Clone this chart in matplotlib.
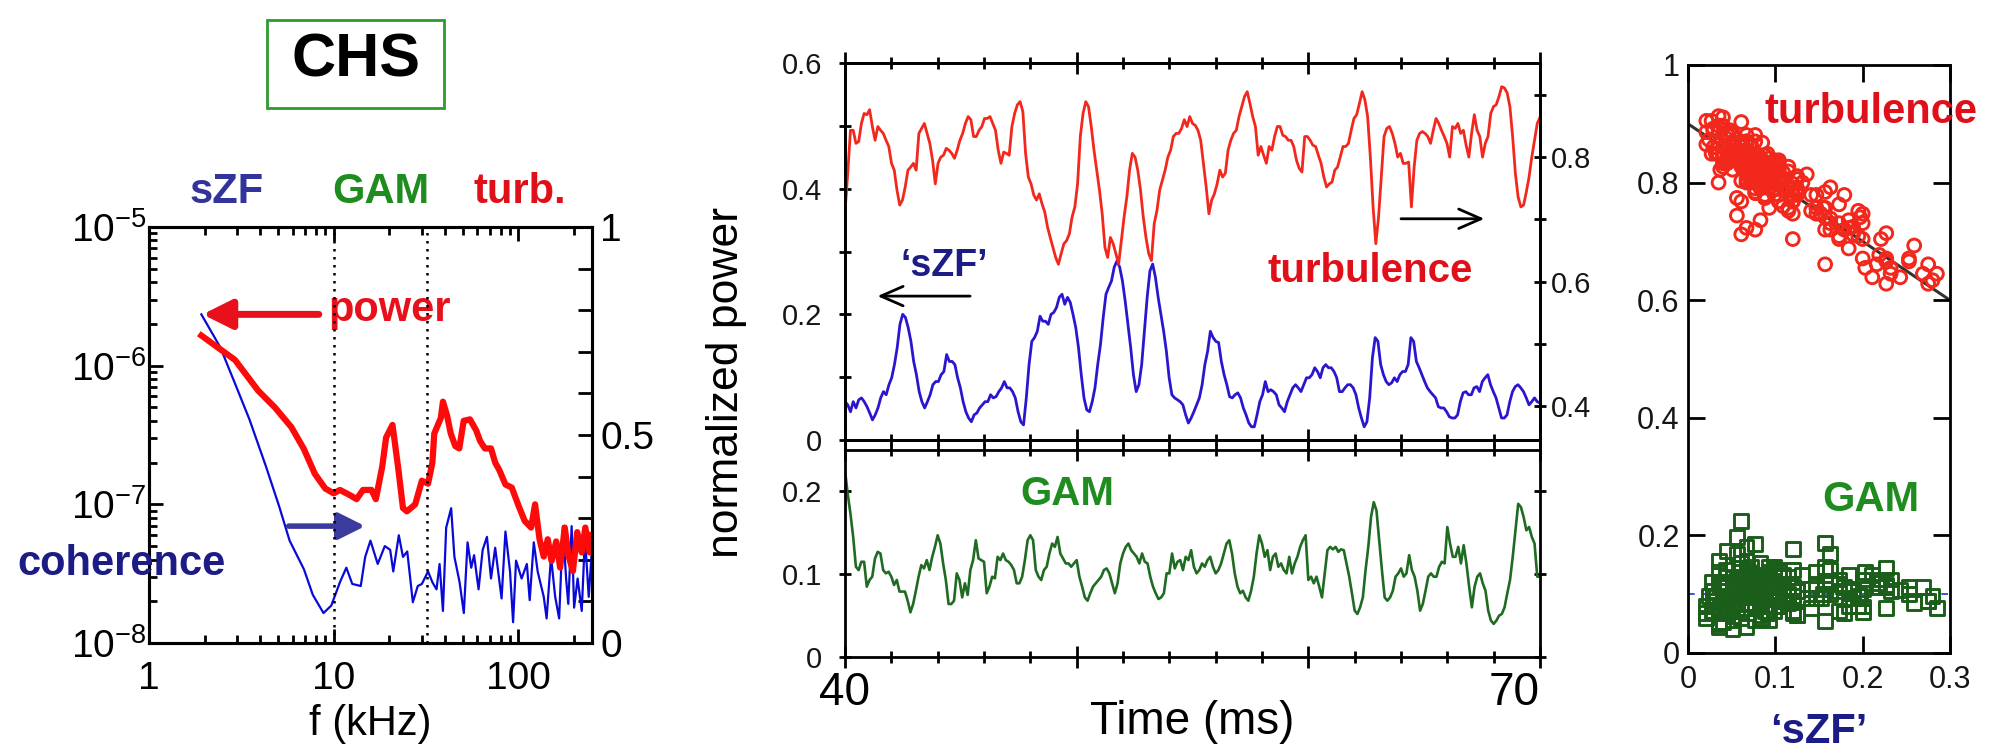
import numpy as np
import matplotlib
matplotlib.use("Agg")
import matplotlib.pyplot as plt
from matplotlib.patches import Rectangle
from matplotlib.ticker import (FixedLocator, FuncFormatter, LogLocator,
                               MultipleLocator, NullFormatter)

plt.rcParams["font.family"] = ["Liberation Sans", "DejaVu Sans"]
plt.rcParams["mathtext.fontset"] = "custom"
plt.rcParams["mathtext.rm"] = "Liberation Sans"
plt.rcParams["mathtext.it"] = "Liberation Sans:italic"
plt.rcParams["mathtext.bf"] = "Liberation Sans:bold"
plt.rcParams["axes.unicode_minus"] = False

# spectrum: power (log) and coherence vs frequency in kHz
spec_f = [1.92, 2.92, 3.9, 4.8, 5.9, 6.9, 7.9, 9.0, 10.0, 10.8, 12.3, 13.3,
          14.4, 16.0, 16.9, 18.3, 19.2, 20.8, 22.4, 23.7, 24.9, 27.6, 30.0,
          32.4, 34.2, 35.0, 38.0, 39.0, 41.0, 43.0, 45.5, 47.8, 50.5, 54.6,
          59.0, 62.0, 65.8, 71.0, 74.8, 78.7, 85.0, 92.0, 100.0, 108.0,
          117.0, 123.0, 130.0, 137.0, 144.0, 151.0, 160.0, 168.0, 178.0,
          187.0, 197.0, 208.0, 220.0, 230.0, 243.0, 250.0]
spec_power = [1.65e-6, 1.10e-6, 6.6e-7, 5.0e-7, 3.6e-7, 2.5e-7, 1.66e-7,
              1.3e-7, 1.2e-7, 1.27e-7, 1.16e-7, 1.09e-7, 1.27e-7, 1.27e-7,
              1.09e-7, 1.87e-7, 3.03e-7, 3.74e-7, 1.77e-7, 9.4e-8, 8.9e-8,
              1.0e-7, 1.48e-7, 1.41e-7, 2.0e-7, 3.24e-7, 4.2e-7, 5.5e-7,
              4.4e-7, 3.24e-7, 2.63e-7, 2.53e-7, 4.0e-7, 4.1e-7, 3.42e-7,
              2.86e-7, 2.53e-7, 2.53e-7, 2.0e-7, 1.77e-7, 1.39e-7, 1.32e-7,
              9.8e-8, 7.6e-8, 6.8e-8, 1.0e-7, 5.6e-8, 4.2e-8, 5.6e-8, 3.9e-8,
              5.4e-8, 3.5e-8, 6.8e-8, 4.2e-8, 3.3e-8, 6.3e-8, 4.5e-8, 6.8e-8,
              4.5e-8, 6.0e-8]
coh_f = [1.92, 2.43, 2.92, 3.5, 4.3, 5.06, 5.77, 6.9, 7.7, 8.8, 9.7, 10.8,
         11.7, 12.6, 14.0, 14.8, 15.8, 17.3, 18.9, 20.2, 21.0, 22.5, 23.7,
         25.0, 26.8, 28.5, 30.0, 32.4, 34.2, 36.0, 37.4, 39.0, 40.6, 43.2,
         45.0, 48.0, 50.6, 53.0, 55.5, 57.5, 60.8, 64.0, 67.5, 71.0, 74.8,
         81.0, 85.0, 90.0, 93.5, 97.0, 104.0, 111.0, 115.0, 121.0, 127.0,
         137.0, 142.0, 150.0, 158.0, 166.0, 174.0, 181.0, 186.0, 194.0,
         200.0, 209.0, 220.0, 229.0, 240.0, 249.0]
coh_val = [0.79, 0.711, 0.624, 0.537, 0.424, 0.329, 0.246, 0.177, 0.116,
           0.072, 0.09, 0.146, 0.181, 0.142, 0.137, 0.207, 0.246, 0.19,
           0.233, 0.224, 0.172, 0.259, 0.207, 0.22, 0.098, 0.137, 0.142,
           0.172, 0.146, 0.129, 0.19, 0.077, 0.277, 0.324, 0.207, 0.146,
           0.072, 0.242, 0.181, 0.211, 0.129, 0.224, 0.255, 0.155, 0.229,
           0.107, 0.268, 0.172, 0.05, 0.198, 0.155, 0.19, 0.103, 0.242,
           0.172, 0.111, 0.059, 0.207, 0.111, 0.059, 0.281, 0.155, 0.094,
           0.281, 0.085, 0.155, 0.077, 0.255, 0.111, 0.216]
band_edges = [10, 32]

# time traces, evenly sampled between 40 and 70 ms
t_start, t_end = 40, 70
szf_power = [
    0.061, 0.056, 0.045, 0.061, 0.051, 0.064, 0.067, 0.061, 0.053, 0.043,
    0.032, 0.040, 0.051, 0.067, 0.077, 0.072, 0.088, 0.099, 0.120, 0.147,
    0.184, 0.200, 0.195, 0.179, 0.157, 0.125, 0.104, 0.077, 0.061, 0.051,
    0.061, 0.072, 0.088, 0.093, 0.093, 0.104, 0.109, 0.136, 0.125, 0.125,
    0.120, 0.099, 0.083, 0.061, 0.045, 0.035, 0.029, 0.040, 0.043, 0.051,
    0.056, 0.061, 0.061, 0.072, 0.067, 0.069, 0.077, 0.083, 0.093, 0.083,
    0.083, 0.077, 0.067, 0.045, 0.029, 0.024, 0.067, 0.120, 0.157, 0.163,
    0.173, 0.197, 0.189, 0.189, 0.184, 0.200, 0.203, 0.211, 0.227, 0.232,
    0.216, 0.227, 0.219, 0.200, 0.179, 0.147, 0.104, 0.067, 0.048, 0.045,
    0.061, 0.083, 0.120, 0.152, 0.195, 0.232, 0.243, 0.253, 0.275, 0.285,
    0.275, 0.253, 0.221, 0.184, 0.147, 0.104, 0.077, 0.088, 0.120, 0.173,
    0.227, 0.269, 0.280, 0.259, 0.227, 0.200, 0.173, 0.141, 0.099, 0.072,
    0.067, 0.064, 0.061, 0.056, 0.040, 0.027, 0.035, 0.045, 0.056, 0.067,
    0.088, 0.120, 0.141, 0.173, 0.163, 0.157, 0.155, 0.125, 0.104, 0.088,
    0.069, 0.067, 0.072, 0.075, 0.067, 0.051, 0.040, 0.027, 0.021, 0.021,
    0.040, 0.061, 0.072, 0.093, 0.077, 0.080, 0.077, 0.072, 0.056, 0.051,
    0.045, 0.061, 0.072, 0.083, 0.088, 0.083, 0.077, 0.088, 0.099, 0.099,
    0.104, 0.115, 0.109, 0.099, 0.115, 0.120, 0.115, 0.115, 0.109, 0.099,
    0.077, 0.077, 0.083, 0.088, 0.088, 0.083, 0.072, 0.051, 0.035, 0.021,
    0.029, 0.067, 0.131, 0.163, 0.157, 0.120, 0.104, 0.093, 0.088, 0.091,
    0.099, 0.093, 0.104, 0.109, 0.109, 0.120, 0.163, 0.157, 0.125, 0.115,
    0.104, 0.093, 0.083, 0.077, 0.072, 0.067, 0.053, 0.051, 0.051, 0.045,
    0.037, 0.035, 0.035, 0.040, 0.061, 0.075, 0.077, 0.072, 0.072, 0.083,
    0.085, 0.077, 0.093, 0.099, 0.104, 0.088, 0.077, 0.067, 0.051, 0.035,
    0.035, 0.040, 0.061, 0.077, 0.085, 0.088, 0.083, 0.077, 0.067, 0.056,
    0.061, 0.067, 0.061, 0.059]
turb_power = [
    0.712, 0.774, 0.843, 0.843, 0.822, 0.825, 0.854, 0.870, 0.868, 0.876,
    0.849, 0.827, 0.849, 0.843, 0.838, 0.827, 0.817, 0.790, 0.779, 0.747,
    0.723, 0.731, 0.752, 0.779, 0.784, 0.790, 0.779, 0.838, 0.846, 0.854,
    0.838, 0.822, 0.795, 0.757, 0.790, 0.800, 0.803, 0.814, 0.811, 0.806,
    0.798, 0.811, 0.827, 0.838, 0.854, 0.865, 0.860, 0.833, 0.833, 0.843,
    0.849, 0.862, 0.862, 0.865, 0.854, 0.843, 0.811, 0.790, 0.808, 0.806,
    0.803, 0.849, 0.870, 0.884, 0.889, 0.873, 0.806, 0.768, 0.757, 0.739,
    0.731, 0.741, 0.725, 0.712, 0.688, 0.671, 0.655, 0.639, 0.628, 0.645,
    0.661, 0.666, 0.677, 0.704, 0.720, 0.757, 0.833, 0.870, 0.889, 0.881,
    0.849, 0.811, 0.779, 0.747, 0.709, 0.655, 0.639, 0.671, 0.661, 0.645,
    0.628, 0.666, 0.704, 0.736, 0.779, 0.806, 0.800, 0.779, 0.747, 0.704,
    0.671, 0.645, 0.634, 0.693, 0.714, 0.747, 0.763, 0.779, 0.800, 0.811,
    0.833, 0.838, 0.838, 0.846, 0.860, 0.849, 0.865, 0.854, 0.851, 0.843,
    0.827, 0.790, 0.752, 0.709, 0.731, 0.741, 0.757, 0.779, 0.768, 0.774,
    0.811, 0.827, 0.838, 0.843, 0.865, 0.881, 0.897, 0.905, 0.886, 0.865,
    0.849, 0.803, 0.817, 0.803, 0.790, 0.817, 0.811, 0.833, 0.849, 0.849,
    0.835, 0.833, 0.827, 0.827, 0.817, 0.795, 0.782, 0.776, 0.833, 0.833,
    0.827, 0.819, 0.817, 0.803, 0.790, 0.768, 0.752, 0.757, 0.760, 0.779,
    0.784, 0.800, 0.817, 0.817, 0.822, 0.843, 0.862, 0.868, 0.886, 0.905,
    0.892, 0.865, 0.800, 0.720, 0.661, 0.704, 0.768, 0.833, 0.846, 0.849,
    0.838, 0.822, 0.800, 0.806, 0.790, 0.790, 0.792, 0.720, 0.784, 0.827,
    0.838, 0.841, 0.838, 0.833, 0.822, 0.843, 0.862, 0.854, 0.843, 0.833,
    0.822, 0.800, 0.849, 0.846, 0.854, 0.838, 0.843, 0.819, 0.800, 0.838,
    0.868, 0.843, 0.833, 0.800, 0.822, 0.833, 0.870, 0.881, 0.884, 0.897,
    0.913, 0.911, 0.903, 0.881, 0.833, 0.774, 0.736, 0.720, 0.723, 0.744,
    0.768, 0.800, 0.827, 0.854, 0.864]
gam_power = [
    0.225, 0.197, 0.173, 0.145, 0.109, 0.105, 0.115, 0.115, 0.085, 0.093,
    0.097, 0.119, 0.127, 0.125, 0.105, 0.101, 0.103, 0.097, 0.087, 0.093,
    0.079, 0.079, 0.079, 0.068, 0.054, 0.064, 0.080, 0.097, 0.111, 0.107,
    0.117, 0.105, 0.121, 0.133, 0.147, 0.137, 0.113, 0.093, 0.064, 0.064,
    0.068, 0.101, 0.093, 0.072, 0.089, 0.075, 0.105, 0.117, 0.141, 0.119,
    0.117, 0.115, 0.077, 0.085, 0.097, 0.095, 0.121, 0.117, 0.125, 0.117,
    0.115, 0.111, 0.105, 0.089, 0.089, 0.097, 0.117, 0.141, 0.147, 0.141,
    0.105, 0.097, 0.093, 0.105, 0.109, 0.125, 0.137, 0.133, 0.145, 0.125,
    0.119, 0.113, 0.113, 0.109, 0.113, 0.117, 0.097, 0.085, 0.072, 0.068,
    0.077, 0.085, 0.089, 0.093, 0.097, 0.105, 0.107, 0.101, 0.089, 0.077,
    0.089, 0.113, 0.125, 0.133, 0.137, 0.129, 0.125, 0.121, 0.113, 0.125,
    0.115, 0.113, 0.097, 0.085, 0.077, 0.070, 0.072, 0.077, 0.101, 0.101,
    0.125, 0.107, 0.115, 0.117, 0.105, 0.121, 0.117, 0.129, 0.109, 0.101,
    0.105, 0.113, 0.109, 0.117, 0.121, 0.109, 0.101, 0.105, 0.113, 0.125,
    0.137, 0.141, 0.125, 0.101, 0.085, 0.077, 0.080, 0.072, 0.068, 0.080,
    0.097, 0.125, 0.147, 0.137, 0.121, 0.129, 0.105, 0.121, 0.125, 0.109,
    0.113, 0.105, 0.101, 0.121, 0.101, 0.113, 0.121, 0.133, 0.141, 0.147,
    0.093, 0.097, 0.089, 0.097, 0.085, 0.072, 0.101, 0.129, 0.133, 0.130,
    0.133, 0.127, 0.130, 0.129, 0.113, 0.097, 0.077, 0.056, 0.052, 0.060,
    0.072, 0.105, 0.133, 0.169, 0.187, 0.177, 0.141, 0.105, 0.072, 0.068,
    0.072, 0.080, 0.097, 0.101, 0.107, 0.097, 0.101, 0.123, 0.105, 0.097,
    0.080, 0.056, 0.064, 0.080, 0.097, 0.101, 0.097, 0.097, 0.109, 0.115,
    0.113, 0.157, 0.137, 0.121, 0.121, 0.133, 0.113, 0.135, 0.113, 0.085,
    0.060, 0.085, 0.097, 0.101, 0.089, 0.080, 0.056, 0.044, 0.040, 0.044,
    0.050, 0.052, 0.060, 0.077, 0.093, 0.121, 0.153, 0.185, 0.181, 0.169,
    0.153, 0.157, 0.145, 0.137, 0.097, 0.097]

# linear fit of turbulence vs sZF and mean GAM level
fit_x = [0.0, 0.3]
fit_y = [0.9, 0.6]
gam_level = 0.1

RED = "#f2281c"
BLUE = "#2b16d0"
GREEN = "#1f6b22"
NAVY = "#1c1c86"

W, H = 1999, 749
fig = plt.figure(figsize=(W / 100, H / 100), dpi=100)


def rect(x0, y0, x1, y1):
    return [x0 / W, 1 - y1 / H, (x1 - x0) / W, (y1 - y0) / H]


def at(x, y):
    return x / W, 1 - y / H


def fmt_g(v, pos):
    return f"{v:g}"


# ---------------- left: spectrum ----------------
ax = fig.add_axes(rect(149, 227, 592, 643))
axc = ax.twinx()
ax.set_zorder(axc.get_zorder() + 1)
ax.patch.set_visible(False)

axc.plot(coh_f, coh_val, color="#0a0ad8", lw=1.6)
ax.plot(spec_f, spec_power, color="#ff0a0a", lw=4.5, solid_joinstyle="round")
for fb in band_edges:
    ax.axvline(fb, color="k", ls=(0, (1, 2.2)), lw=1.8)

ax.set_xscale("log")
ax.set_yscale("log")
ax.set_xlim(1, 250)
ax.set_ylim(1e-8, 1e-5)
axc.set_ylim(0, 1)

ax.xaxis.set_major_locator(FixedLocator([1, 10, 100]))
ax.xaxis.set_minor_locator(LogLocator(base=10, subs=np.arange(2, 10)))
ax.xaxis.set_major_formatter(FuncFormatter(fmt_g))
ax.xaxis.set_minor_formatter(NullFormatter())
ax.yaxis.set_major_locator(FixedLocator([1e-8, 1e-7, 1e-6, 1e-5]))
ax.yaxis.set_minor_locator(LogLocator(base=10, subs=np.arange(2, 10)))
ax.yaxis.set_major_formatter(FuncFormatter(
    lambda v, p: r"$\mathregular{10^{%d}}$" % round(np.log10(v))))
ax.yaxis.set_minor_formatter(NullFormatter())
ax.tick_params(which="both", direction="in", top=True, right=False,
               width=2, labelsize=28)
ax.tick_params(which="major", length=10)
ax.tick_params(which="minor", length=6)
ax.tick_params(axis="x", pad=13)
ax.tick_params(axis="y", pad=2)

axc.yaxis.set_major_locator(FixedLocator([0, 0.5, 1]))
axc.yaxis.set_minor_locator(MultipleLocator(0.1))
axc.yaxis.set_major_formatter(FuncFormatter(fmt_g))
axc.tick_params(which="both", direction="in", length=10, width=2,
                labelsize=28, pad=6)
for a in (ax, axc):
    for s in a.spines.values():
        s.set_linewidth(2.2)
ax.set_xlabel("f (kHz)", fontsize=30, labelpad=5)

axc.annotate("", xy=(1.95, 0.79), xytext=(8.3, 0.79),
             arrowprops=dict(arrowstyle="-|>,head_length=0.8,head_width=0.4",
                             color="#e8101a", lw=5, mutation_scale=22,
                             shrinkA=0, shrinkB=0))
axc.text(9.4, 0.80, "power", color="#e8101a", fontsize=30,
         fontweight="bold", ha="left", va="center")
axc.annotate("", xy=(14.8, 0.281), xytext=(5.7, 0.281),
             arrowprops=dict(arrowstyle="-|>,head_length=0.8,head_width=0.4",
                             color="#3b3b9e", lw=4, mutation_scale=20,
                             shrinkA=0, shrinkB=0))

fig.text(*at(227, 192), "sZF", color="#33339c", fontsize=30,
         fontweight="bold", ha="center", va="center")
fig.text(*at(381, 192), "GAM", color="#1f8c1f", fontsize=30,
         fontweight="bold", ha="center", va="center")
fig.text(*at(520, 192), "turb.", color="#e0101a", fontsize=30,
         fontweight="bold", ha="center", va="center")
fig.text(*at(122, 564), "coherence", color=NAVY, fontsize=30,
         fontweight="bold", ha="center", va="center")

x0, y0, x1, y1 = 267, 20, 444, 108
fig.add_artist(Rectangle((x0 / W, 1 - y1 / H), (x1 - x0) / W, (y1 - y0) / H,
                         transform=fig.transFigure, fill=False,
                         edgecolor="#2e9a2e", lw=2))
fig.text(*at(356, 61), "CHS", fontsize=44, fontweight="bold",
         ha="center", va="center")

# ---------------- middle: time traces ----------------
t_szf = np.linspace(t_start, t_end, len(szf_power))
t_turb = np.linspace(t_start, t_end, len(turb_power))
t_gam = np.linspace(t_start, t_end, len(gam_power))

axt = fig.add_axes(rect(845, 63, 1540, 440))
axt.plot(t_szf, szf_power, color=BLUE, lw=2)
axt.set_xlim(t_start, t_end)
axt.set_ylim(0, 0.6)
axtr = axt.twinx()
axtr.plot(t_turb, turb_power, color=RED, lw=2)
axtr.set_ylim(0.346, 0.951)

axb = fig.add_axes(rect(845, 450, 1540, 657))
axb.plot(t_gam, gam_power, color=GREEN, lw=1.9)
axb.set_xlim(t_start, t_end)
axb.set_ylim(0, 0.25)

for a in (axt, axb):
    a.xaxis.set_minor_locator(MultipleLocator(2))
    a.tick_params(axis="x", which="both", direction="inout", top=True,
                  bottom=True, width=2)
    a.tick_params(axis="x", which="major", length=16)
    a.tick_params(axis="x", which="minor", length=9)
    a.tick_params(axis="y", which="both", direction="inout", length=9,
                  width=2, labelsize=21, pad=12, labelcolor="#161616")
axt.set_xticks([40, 50, 60, 70], labels=["", "", "", ""])
axb.set_xticks([40, 50, 60, 70], labels=["40", "", "", "70"])
axb.tick_params(axis="x", labelsize=33, pad=2)
axb.get_xticklabels()[3].set_horizontalalignment("right")

axt.yaxis.set_major_locator(FixedLocator([0, 0.2, 0.4, 0.6]))
axt.yaxis.set_minor_locator(FixedLocator([0.1, 0.3, 0.5]))
axt.yaxis.set_major_formatter(FuncFormatter(fmt_g))
axtr.yaxis.set_major_locator(FixedLocator([0.4, 0.6, 0.8]))
axtr.yaxis.set_minor_locator(FixedLocator([0.5, 0.7, 0.9]))
axtr.yaxis.set_major_formatter(FuncFormatter(fmt_g))
axtr.tick_params(axis="y", which="both", direction="inout", length=9,
                 width=2, labelsize=21, pad=3, labelcolor="#161616")
axb.yaxis.set_major_locator(FixedLocator([0, 0.1, 0.2]))
axb.yaxis.set_major_formatter(FuncFormatter(fmt_g))
axb.tick_params(axis="y", right=True)
axb.set_xlabel("Time (ms)", fontsize=33, labelpad=-11)
for a in (axt, axtr, axb):
    for s in a.spines.values():
        s.set_linewidth(2)

axt.text(44.3, 0.277, "\u2018sZF\u2019", color=NAVY, fontsize=27,
         fontweight="bold", ha="center", va="center")
axt.annotate("", xy=(41.4, 0.229), xytext=(45.4, 0.229),
             arrowprops=dict(arrowstyle="->,head_length=0.8,head_width=0.35",
                             color="k", lw=2, mutation_scale=20,
                             shrinkA=0, shrinkB=0))
axtr.text(62.66, 0.617, "turbulence", color="#e0101a", fontsize=29,
          fontweight="bold", ha="center", va="center")
axtr.annotate("", xy=(67.6, 0.701), xytext=(64.0, 0.701),
              arrowprops=dict(arrowstyle="->,head_length=0.8,head_width=0.35",
                              color="k", lw=2, mutation_scale=20,
                              shrinkA=0, shrinkB=0))
axb.text(49.6, 0.197, "GAM", color="#1f8c1f", fontsize=29,
         fontweight="bold", ha="center", va="center")
fig.text(*at(727, 382), "normalized power", rotation=90, fontsize=32,
         ha="center", va="center")

# ---------------- right: scatter vs sZF ----------------
n = min(len(szf_power), len(turb_power), len(gam_power))
axs = fig.add_axes(rect(1688, 65, 1950, 653))
axs.plot(fit_x, fit_y, color="#333333", lw=2.2, zorder=1)
axs.axhline(gam_level, color="#2233cc", lw=1.2, ls=(0, (4, 4)), zorder=1)
axs.scatter(szf_power[:n], turb_power[:n], s=85, facecolors="none",
            edgecolors=RED, linewidths=2.1, zorder=2)
axs.scatter(szf_power[:n], gam_power[:n], s=100, marker="s",
            facecolors="none", edgecolors="#1a5e1a", linewidths=2.1,
            zorder=2)
axs.set_xlim(0, 0.3)
axs.set_ylim(0, 1)
axs.xaxis.set_major_locator(FixedLocator([0, 0.1, 0.2, 0.3]))
axs.yaxis.set_major_locator(FixedLocator([0, 0.2, 0.4, 0.6, 0.8, 1.0]))
axs.xaxis.set_major_formatter(FuncFormatter(fmt_g))
axs.yaxis.set_major_formatter(FuncFormatter(fmt_g))
axs.tick_params(direction="in", length=12, width=2, top=True, right=True,
                labelsize=22, labelcolor="#161616")
axs.tick_params(axis="x", pad=9)
axs.tick_params(axis="y", pad=6)
for s in axs.spines.values():
    s.set_linewidth(2)
axs.set_xlabel("\u2018sZF\u2019", color=NAVY, fontsize=30,
               fontweight="bold", labelpad=12)

fig.text(*at(1871, 112), "turbulence", color="#e0101a", fontsize=30,
         fontweight="bold", ha="center", va="center")
fig.text(*at(1871, 500), "GAM", color="#1f8c1f", fontsize=30,
         fontweight="bold", ha="center", va="center")

fig.savefig("out.png", dpi=100)
